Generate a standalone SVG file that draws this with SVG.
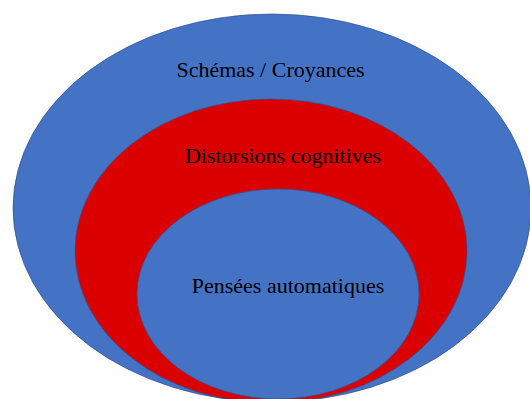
<svg xmlns="http://www.w3.org/2000/svg" width="530" height="399" viewBox="0 0 530 399">
  <style>
    .shape { stroke: #2F528F; stroke-width: 1; stroke-opacity: 0.7; }
    .blue { fill: #4472C4; }
    .red { fill: #DA0000; }
    text { font-family: 'Liberation Serif', 'DejaVu Serif', serif; font-size: 22px; fill: #000000; text-anchor: middle; }
  </style>
  <rect width="530" height="399" fill="#FFFFFF"/>
  <g id="schemas-croyances">
    <ellipse class="shape blue" cx="272" cy="208" rx="259" ry="194"/>
    <text x="270.5" y="77" font-family="Liberation Serif, serif">Schémas / Croyances</text>
  </g>
  <g id="distorsions-cognitives">
    <ellipse class="shape red" cx="271" cy="251" rx="196" ry="152"/>
    <text x="283" y="163" font-family="Liberation Serif, serif">Distorsions cognitives</text>
  </g>
  <g id="pensees-automatiques">
    <ellipse class="shape blue" cx="278" cy="294" rx="141" ry="105"/>
    <text x="288" y="293" font-family="Liberation Serif, serif">Pensées automatiques</text>
  </g>
  <g id="connectors"/>
</svg>
